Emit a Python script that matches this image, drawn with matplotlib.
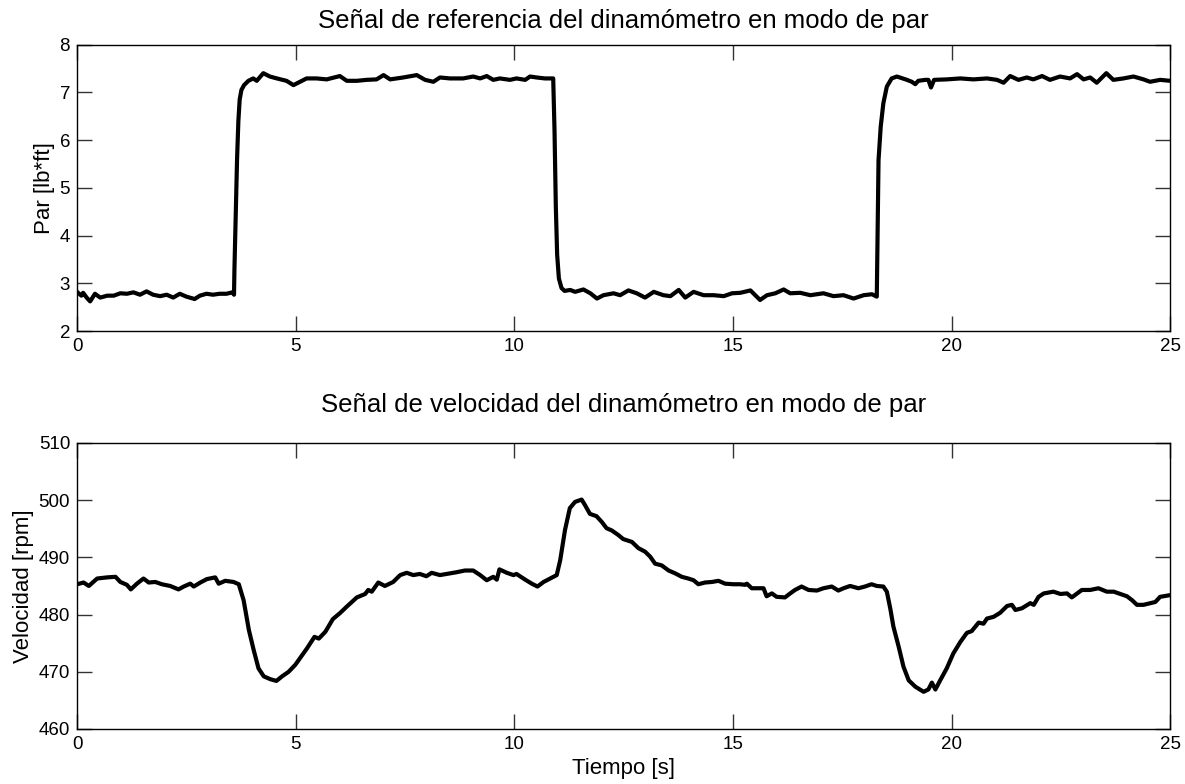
import matplotlib
matplotlib.use("Agg")
import matplotlib.pyplot as plt

plt.rcParams['font.family'] = ['Liberation Sans', 'DejaVu Sans']

# ---- Torque reference signal (top) ----
torque_t = [0.00, 0.10, 0.14, 0.22, 0.30, 0.41, 0.53, 0.69, 0.84, 0.99, 1.14, 1.29, 1.44, 1.59,
            1.74, 1.90, 2.05, 2.20, 2.35, 2.50, 2.69, 2.81, 2.96, 3.11, 3.26, 3.42, 3.55, 3.59,
            3.60, 3.63, 3.66, 3.69, 3.72, 3.76, 3.82, 3.92, 4.03, 4.11, 4.26, 4.41, 4.57, 4.79,
            4.95, 5.10, 5.25, 5.48, 5.71, 6.01, 6.17, 6.40, 6.62, 6.85, 7.01, 7.16, 7.46, 7.77,
            7.96, 8.15, 8.30, 8.53, 8.83, 9.06, 9.22, 9.37, 9.52, 9.67, 9.90, 10.05, 10.25, 10.36,
            10.51, 10.70, 10.89, 10.92, 10.95, 10.98, 11.02, 11.08, 11.15, 11.28, 11.39, 11.58,
            11.74, 11.89, 12.04, 12.27, 12.42, 12.61, 12.80, 12.99, 13.19, 13.41, 13.57, 13.76,
            13.91, 14.10, 14.33, 14.56, 14.79, 14.98, 15.17, 15.40, 15.62, 15.78, 15.97, 16.16,
            16.31, 16.54, 16.77, 17.07, 17.30, 17.53, 17.76, 17.99, 18.18, 18.29, 18.31, 18.33,
            18.38, 18.44, 18.52, 18.63, 18.75, 18.98, 19.09, 19.17, 19.24, 19.40, 19.47, 19.53,
            19.60, 19.89, 20.20, 20.50, 20.81, 21.04, 21.19, 21.34, 21.53, 21.72, 21.87, 22.07,
            22.25, 22.48, 22.71, 22.87, 23.02, 23.17, 23.32, 23.54, 23.70, 23.93, 24.16, 24.39,
            24.54, 24.77, 25.00]
torque_v = [2.82, 2.74, 2.80, 2.70, 2.62, 2.78, 2.70, 2.74, 2.74, 2.79, 2.78, 2.81, 2.76, 2.83,
            2.76, 2.73, 2.76, 2.70, 2.78, 2.72, 2.67, 2.74, 2.78, 2.76, 2.78, 2.78, 2.81, 2.76,
            3.30, 4.50, 5.60, 6.40, 6.85, 7.05, 7.15, 7.24, 7.29, 7.24, 7.40, 7.33, 7.29, 7.24,
            7.15, 7.22, 7.29, 7.29, 7.27, 7.34, 7.24, 7.24, 7.26, 7.27, 7.36, 7.27, 7.31, 7.36,
            7.26, 7.22, 7.31, 7.29, 7.29, 7.33, 7.29, 7.34, 7.26, 7.29, 7.26, 7.29, 7.26, 7.33,
            7.31, 7.29, 7.29, 6.20, 4.60, 3.60, 3.10, 2.90, 2.84, 2.86, 2.82, 2.87,
            2.79, 2.68, 2.75, 2.79, 2.75, 2.85, 2.79, 2.70, 2.82, 2.75, 2.73, 2.86,
            2.70, 2.82, 2.75, 2.75, 2.73, 2.79, 2.80, 2.85, 2.65, 2.75, 2.79, 2.87,
            2.79, 2.80, 2.75, 2.79, 2.73, 2.75, 2.68, 2.75, 2.77, 2.72, 4.18, 5.58,
            6.28, 6.77, 7.12, 7.29, 7.33, 7.26, 7.22, 7.17, 7.24, 7.26, 7.26, 7.10,
            7.26, 7.27, 7.29, 7.27, 7.29, 7.26, 7.20, 7.34, 7.26, 7.31, 7.27, 7.34,
            7.26, 7.33, 7.29, 7.38, 7.27, 7.31, 7.20, 7.40, 7.26, 7.29, 7.33, 7.27,
            7.22, 7.26, 7.24]

# ---- Speed signal (bottom) ----
speed_t = [0.00, 0.15, 0.27, 0.46, 0.69, 0.88, 0.99, 1.14, 1.23, 1.37, 1.52, 1.64, 1.79, 1.94,
           2.13, 2.32, 2.44, 2.59, 2.67, 2.82, 2.97, 3.16, 3.24, 3.39, 3.58, 3.70, 3.81, 3.93,
           4.04, 4.15, 4.27, 4.42, 4.56, 4.69, 4.84, 4.99, 5.11, 5.26, 5.43, 5.53, 5.68, 5.85,
           6.02, 6.17, 6.30, 6.40, 6.59, 6.66, 6.74, 6.89, 7.04, 7.23, 7.39, 7.54, 7.69, 7.84,
           7.99, 8.11, 8.30, 8.45, 8.68, 8.87, 9.06, 9.22, 9.37, 9.52, 9.60, 9.66, 9.83, 9.98,
           10.05, 10.25, 10.40, 10.53, 10.67, 10.82, 10.97, 11.05, 11.16, 11.27, 11.39, 11.54,
           11.62, 11.73, 11.88, 12.00, 12.11, 12.23, 12.38, 12.49, 12.69, 12.84, 12.99, 13.11,
           13.22, 13.37, 13.53, 13.68, 13.83, 13.98, 14.10, 14.21, 14.36, 14.52, 14.67, 14.82,
           15.01, 15.16, 15.28, 15.32, 15.43, 15.58, 15.70, 15.77, 15.89, 16.00, 16.19, 16.31,
           16.42, 16.57, 16.73, 16.92, 17.07, 17.26, 17.41, 17.53, 17.68, 17.87, 18.02, 18.17,
           18.29, 18.44, 18.52, 18.60, 18.67, 18.79, 18.90, 19.02, 19.17, 19.36, 19.47, 19.55,
           19.63, 19.74, 19.89, 20.04, 20.20, 20.35, 20.46, 20.62, 20.73, 20.81, 20.96, 21.11,
           21.27, 21.38, 21.46, 21.61, 21.80, 21.88, 21.99, 22.11, 22.33, 22.49, 22.64, 22.75,
           22.98, 23.17, 23.36, 23.55, 23.71, 23.86, 24.01, 24.13, 24.24, 24.39, 24.55, 24.66,
           24.77, 25.00]
speed_v = [485.3, 485.6, 485.0, 486.3, 486.5, 486.6, 485.7, 485.2, 484.4, 485.4, 486.3, 485.6, 485.7, 485.3,
           485.0, 484.4, 484.9, 485.4, 484.9, 485.6, 486.2, 486.5, 485.4, 485.9, 485.7, 485.3, 482.5, 477.3,
           473.8, 470.6, 469.2, 468.7, 468.4, 469.2, 470.0, 471.2, 472.5, 474.1, 476.1, 475.8, 477.0, 479.2,
           480.3, 481.4, 482.3, 483.0, 483.6, 484.3, 484.0, 485.6, 485.0, 485.7, 486.9, 487.3, 486.9, 487.1,
           486.7, 487.3, 486.9, 487.1, 487.4, 487.7, 487.7, 486.9, 486.0, 486.6, 486.1, 487.9, 487.3, 486.9,
           487.1, 486.1, 485.4, 484.9, 485.7, 486.3, 486.9, 489.5, 494.8, 498.6, 499.7, 500.1,
           499.1, 497.6, 497.2, 496.2, 495.1, 494.7, 493.9, 493.2, 492.7, 491.6, 491.0, 490.1,
           488.9, 488.6, 487.7, 487.2, 486.6, 486.3, 486.0, 485.3, 485.6, 485.7, 485.9, 485.4,
           485.3, 485.3, 485.2, 485.4, 484.6, 484.6, 484.6, 483.2, 483.7, 483.1, 483.0, 483.7,
           484.3, 484.9, 484.3, 484.2, 484.6, 484.9, 484.2, 484.6, 485.0, 484.6, 484.9, 485.3,
           485.0, 484.9, 484.0, 481.0, 477.9, 474.4, 470.9, 468.5, 467.4, 466.5, 466.9, 468.1,
           466.9, 468.5, 470.6, 473.2, 475.2, 476.8, 477.1, 478.6, 478.4, 479.3, 479.6, 480.3,
           481.5, 481.7, 480.8, 481.1, 482.0, 481.7, 483.1, 483.7, 484.0, 483.6, 483.7, 483.0,
           484.3, 484.3, 484.6, 484.0, 484.0, 483.6, 483.2, 482.5, 481.7, 481.7, 482.0, 482.2,
           483.1, 483.4]

top_title = "Señal de referencia del dinamómetro en modo de par"
bot_title = "Señal de velocidad del dinamómetro en modo de par"
top_ylabel = "Par [lb*ft]"
bot_ylabel = "Velocidad [rpm]"
xlabel = "Tiempo [s]"
xticks = [0, 5, 10, 15, 20, 25]
top_yticks = [2, 3, 4, 5, 6, 7, 8]
bot_yticks = [460, 470, 480, 490, 500, 510]

fig = plt.figure(figsize=(11.85, 7.84), dpi=100)
ax1 = fig.add_axes([0.065, 0.5778, 0.9225, 0.3654])
ax2 = fig.add_axes([0.065, 0.0702, 0.9225, 0.3648])

for ax in (ax1, ax2):
    ax.tick_params(direction='in', length=11, width=1, top=True, right=True,
                   labelsize=13.5, colors='#333333', pad=5)
    for s in ax.spines.values():
        s.set_linewidth(1.0)
        s.set_color('black')
    ax.set_xlim(0, 25)
    ax.set_xticks(xticks)
    ax.set_xticklabels([str(v) for v in xticks], color='black')

ax1.plot(torque_t, torque_v, color='black', linewidth=3.0, solid_joinstyle='round')
ax1.set_ylim(2, 8)
ax1.set_yticks(top_yticks)
ax1.set_yticklabels([str(v) for v in top_yticks], color='black')
ax1.set_title(top_title, fontsize=18.5, pad=12)
ax1.set_ylabel(top_ylabel, fontsize=16, labelpad=3)

ax2.plot(speed_t, speed_v, color='black', linewidth=3.0, solid_joinstyle='round')
ax2.set_ylim(460, 510)
ax2.set_yticks(bot_yticks)
ax2.set_yticklabels([str(v) for v in bot_yticks], color='black')
ax2.set_title(bot_title, fontsize=18.5, pad=22)
ax2.set_ylabel(bot_ylabel, fontsize=16, labelpad=3)
ax2.set_xlabel(xlabel, fontsize=16, labelpad=4)

fig.savefig("out.png", dpi=100)
